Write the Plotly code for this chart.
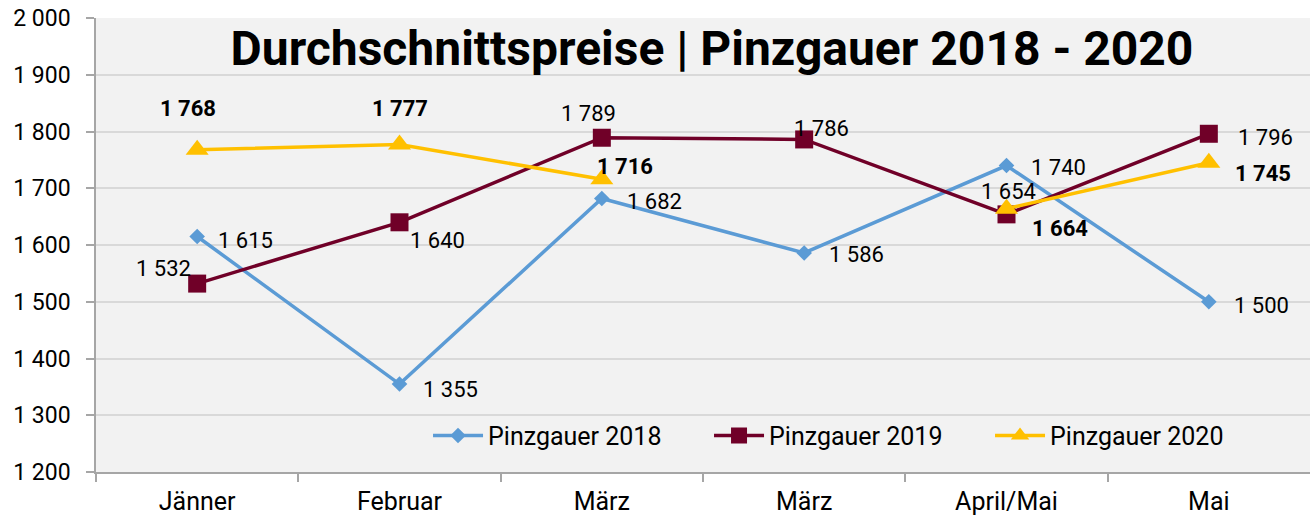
import plotly.graph_objects as go

categories = ["Jänner", "Februar", "März", "März", "April/Mai", "Mai"]
series_names = ["Pinzgauer 2018", "Pinzgauer 2019", "Pinzgauer 2020"]
values_2018 = [1615, 1355, 1682, 1586, 1740, 1500]
values_2019 = [1532, 1640, 1789, 1786, 1654, 1796]
values_2020 = [1768, 1777, 1716, None, 1664, 1745]
y_ticks = [1200, 1300, 1400, 1500, 1600, 1700, 1800, 1900, 2000]

# label offsets in px (style, not data)
offs_2018 = [(48, -4), (51, -5), (53, -3), (52, -2), (52, -2), (53, -4)]
offs_2019 = [(-34, 15), (38, -18), (-13, 24), (17, 11), (2, 23), (57, -4)]
offs_2020 = [(-9, 41), (0, 36), (23, 13), None, (53, -20), (54, -11)]

FONT = "Roboto"
x = list(range(len(categories)))


def fmt(v):
    return f"{v:,}".replace(",", " ")


styles = [
    dict(color="#5B9BD5", symbol="diamond", size=12, bold=False),
    dict(color="#700028", symbol="square", size=18, bold=False),
    dict(color="#FFC000", symbol="triangle-up", size=20, bold=True),
]
all_vals = [values_2018, values_2019, values_2020]
all_offs = [offs_2018, offs_2019, offs_2020]

fig = go.Figure()
annotations = []
for name, vals, st, offs in zip(series_names, all_vals, styles, all_offs):
    fig.add_trace(go.Scatter(
        x=x, y=vals, name=name, mode="lines+markers",
        line=dict(color=st["color"], width=3.5),
        marker=dict(color=st["color"], symbol=st["symbol"], size=st["size"], line=dict(width=0)),
        connectgaps=False, hoverinfo="skip",
    ))
    for xi, v, o in zip(x, vals, offs):
        if v is None:
            continue
        txt = fmt(v)
        if st["bold"]:
            txt = f"<b>{txt}</b>"
        annotations.append(dict(
            x=xi, y=v, xref="x", yref="y", text=txt, showarrow=False,
            xanchor="center", yanchor="middle", xshift=o[0], yshift=o[1],
            font=dict(family=FONT, size=22, color="#000000"),
        ))

fig.update_layout(
    width=1312, height=520,
    margin=dict(l=96, r=2, t=18, b=48),
    paper_bgcolor="#FFFFFF",
    plot_bgcolor="#F2F2F2",
    font=dict(family=FONT, size=20, color="#000000"),
    title=dict(
        text="<b>Durchschnittspreise | Pinzgauer 2018 - 2020</b>",
        x=712 / 1312, xanchor="center", xref="container",
        y=1 - 48 / 520, yanchor="middle", yref="container",
        font=dict(family=FONT, size=48, color="#000000"),
    ),
    showlegend=True,
    legend=dict(
        orientation="h", x=0.2735, y=0.08, xanchor="left", yanchor="middle",
        bgcolor="rgba(0,0,0,0)", font=dict(family=FONT, size=25, color="#000000"),
        entrywidth=216, entrywidthmode="pixels", itemwidth=50,
        traceorder="normal",
    ),
    annotations=annotations,
    hovermode=False,
)

fig.update_xaxes(
    range=[-0.5, 5.5], tickmode="array", tickvals=x, ticktext=categories,
    ticks="", showgrid=False, zeroline=False, automargin=False,
    showline=True, linecolor="#A6A6A6", linewidth=1.5,
    ticklabelstandoff=6,
    tickfont=dict(family=FONT, size=25, color="#000000"),
    minor=dict(tickmode="array", tickvals=[i + 0.5 for i in x[:-1]] + [-0.5],
               ticks="outside", ticklen=8, tickcolor="#A6A6A6", tickwidth=1.5, showgrid=False),
)
fig.update_yaxes(
    range=[1200, 2000], tickmode="array", tickvals=y_ticks,
    ticktext=[fmt(v) for v in y_ticks],
    ticks="outside", ticklen=8, tickcolor="#A6A6A6", tickwidth=1.5,
    showgrid=True, gridcolor="#D9D9D9", gridwidth=1.5, zeroline=False, automargin=False,
    showline=True, linecolor="#A6A6A6", linewidth=1.5,
    ticklabelstandoff=11,
    tickfont=dict(family=FONT, size=23, color="#000000"),
)

fig.write_html("out.html")
